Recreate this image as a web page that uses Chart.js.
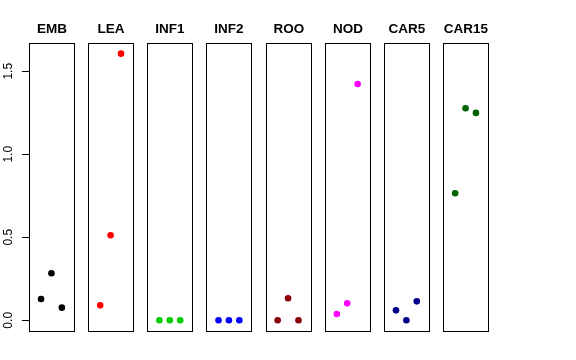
<!DOCTYPE html>
<html>
<head>
<meta charset="utf-8">
<script src="https://cdn.jsdelivr.net/npm/chart.js@4"></script>
<style>
  html, body { margin: 0; padding: 0; background: #fff; }
  #wrap { position: relative; width: 576px; height: 360px; }
</style>
</head>
<body>
<div id="wrap"><canvas id="chart" width="576" height="360"></canvas></div>
<script>
// panel names, colours and the three values of each panel
const panelNames = ['EMB', 'LEA', 'INF1', 'INF2', 'ROO', 'NOD', 'CAR5', 'CAR15'];
const panelColors = ['#000000', '#FF0000', '#00CD00', '#0000FF', '#8B0000', '#FF00FF', '#00008B', '#006400'];
const xSlots = [1, 2, 3];

const valEMB   = [0.128, 0.283, 0.076];
const valLEA   = [0.090, 0.512, 1.606];
const valINF1  = [0, 0, 0];
const valINF2  = [0, 0, 0];
const valROO   = [0, 0.133, 0];
const valNOD   = [0.038, 0.102, 1.423];
const valCAR5  = [0.060, 0, 0.114];
const valCAR15 = [0.765, 1.277, 1.249];
const panelValues = [valEMB, valLEA, valINF1, valINF2, valROO, valNOD, valCAR5, valCAR15];

const yTicks = [0, 0.5, 1, 1.5];

// each panel is x 0..4 (+4% like base R), panels sit side by side
const pitch = 5.69;
const padX = 0.16;
const font = "'Liberation Sans', Arial, sans-serif";

const datasets = panelNames.map((name, k) => ({
  label: name,
  data: panelValues[k].map((v, j) => ({ x: k * pitch + xSlots[j], y: v })),
  backgroundColor: panelColors[k],
  borderColor: panelColors[k],
  borderWidth: 0,
  pointRadius: 3.3,
  pointHoverRadius: 3.3,
  showLine: false
}));

// boxes round every panel + the panel titles
const panelPlugin = {
  id: 'panels',
  afterDraw(chart) {
    const ctx = chart.ctx;
    const x = chart.scales.x;
    const area = chart.chartArea;
    ctx.save();
    ctx.strokeStyle = '#000';
    ctx.lineWidth = 1;
    ctx.fillStyle = '#000';
    ctx.font = 'bold 13.5px ' + font;
    ctx.textAlign = 'center';
    ctx.textBaseline = 'middle';
    panelNames.forEach((name, k) => {
      const l = Math.round(x.getPixelForValue(k * pitch - padX)) + 0.5;
      const r = Math.round(x.getPixelForValue(k * pitch + 4 + padX)) + 0.5;
      const t = Math.round(area.top) + 0.5;
      const b = Math.round(area.bottom) + 0.5;
      ctx.strokeRect(l, t, r - l, b - t);
      ctx.fillText(name, (l + r) / 2, 29.5);
    });
    ctx.restore();
  }
};

new Chart(document.getElementById('chart'), {
  type: 'scatter',
  data: { datasets },
  options: {
    responsive: false,
    animation: false,
    layout: { padding: { top: 43, right: 88, bottom: 29, left: 0 } },
    plugins: {
      legend: { display: false },
      tooltip: { enabled: false },
      title: { display: false }
    },
    scales: {
      x: {
        type: 'linear',
        display: false,
        min: -padX,
        max: 7 * pitch + 4 + padX
      },
      y: {
        type: 'linear',
        min: -0.0645,
        max: 1.670,
        afterBuildTicks: (scale) => { scale.ticks = yTicks.map(v => ({ value: v })); },
        afterFit: (scale) => { scale.width = 29; },
        border: { display: false },
        grid: {
          drawOnChartArea: false,
          drawTicks: true,
          tickLength: 7,
          color: '#000',
          tickColor: '#000',
          lineWidth: 1
        },
        ticks: {
          color: '#000',
          font: { family: font, size: 12 },
          minRotation: 90,
          maxRotation: 90,
          crossAlign: 'center',
          padding: 5,
          callback: (v) => Number(v).toFixed(1)
        }
      }
    }
  },
  plugins: [panelPlugin]
});
</script>
</body>
</html>
